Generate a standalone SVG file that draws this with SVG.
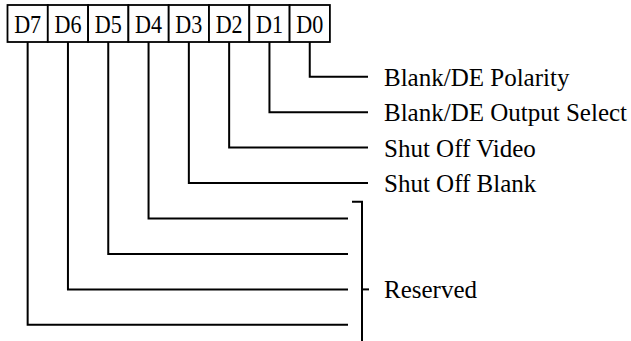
<svg xmlns="http://www.w3.org/2000/svg" width="631" height="341" viewBox="0 0 631 341">
<style>
.box{fill:#fff;stroke:#000;stroke-width:1.8}
.bt{font-family:"Liberation Serif","Times New Roman",serif;font-size:26px;fill:#000;text-anchor:middle}
.lbl{font-family:"Liberation Serif","Times New Roman",serif;font-size:25px;fill:#000}
.con{fill:none;stroke:#000;stroke-width:2;stroke-linejoin:miter}
</style>
<rect width="631" height="341" fill="#fff"/>
<g id="register">
<g id="D7"><rect class="box" x="7.5" y="5" width="40.3" height="37"/><text class="bt" x="27.65" y="33" textLength="27" lengthAdjust="spacingAndGlyphs">D7</text></g>
<g id="D6"><rect class="box" x="47.8" y="5" width="40.3" height="37"/><text class="bt" x="67.95" y="33" textLength="27" lengthAdjust="spacingAndGlyphs">D6</text></g>
<g id="D5"><rect class="box" x="88.1" y="5" width="40.3" height="37"/><text class="bt" x="108.25" y="33" textLength="27" lengthAdjust="spacingAndGlyphs">D5</text></g>
<g id="D4"><rect class="box" x="128.4" y="5" width="40.3" height="37"/><text class="bt" x="148.55" y="33" textLength="27" lengthAdjust="spacingAndGlyphs">D4</text></g>
<g id="D3"><rect class="box" x="168.7" y="5" width="40.3" height="37"/><text class="bt" x="188.85" y="33" textLength="27" lengthAdjust="spacingAndGlyphs">D3</text></g>
<g id="D2"><rect class="box" x="209" y="5" width="40.3" height="37"/><text class="bt" x="229.15" y="33" textLength="27" lengthAdjust="spacingAndGlyphs">D2</text></g>
<g id="D1"><rect class="box" x="249.3" y="5" width="40.3" height="37"/><text class="bt" x="269.45" y="33" textLength="27" lengthAdjust="spacingAndGlyphs">D1</text></g>
<g id="D0"><rect class="box" x="289.6" y="5" width="40.3" height="37"/><text class="bt" x="309.75" y="33" textLength="27" lengthAdjust="spacingAndGlyphs">D0</text></g>
</g>
<g id="connectors">
<polyline class="con" points="309.75,42 309.75,76.7 368,76.7"/>
<polyline class="con" points="269.45,42 269.45,112.15 368,112.15"/>
<polyline class="con" points="229.15,42 229.15,147.6 368,147.6"/>
<polyline class="con" points="188.85,42 188.85,183.05 368,183.05"/>
<polyline class="con" points="148.55,42 148.55,218.5 348,218.5"/>
<polyline class="con" points="108.25,42 108.25,253.95 348,253.95"/>
<polyline class="con" points="67.95,42 67.95,289.4 348,289.4"/>
<polyline class="con" points="27.65,42 27.65,324.85 348,324.85"/>
<polyline class="con" points="352,201.7 362,201.7 362,341"/>
<line class="con" x1="362" y1="289.4" x2="369" y2="289.4"/>
</g>
<g id="labels">
<text class="lbl" x="384" y="85.7">Blank/DE Polarity</text>
<text class="lbl" x="384" y="121.4">Blank/DE Output Select</text>
<text class="lbl" x="384" y="156.8">Shut Off Video</text>
<text class="lbl" x="384" y="192.2">Shut Off Blank</text>
<text class="lbl" x="384" y="298.4">Reserved</text>
</g>
</svg>
